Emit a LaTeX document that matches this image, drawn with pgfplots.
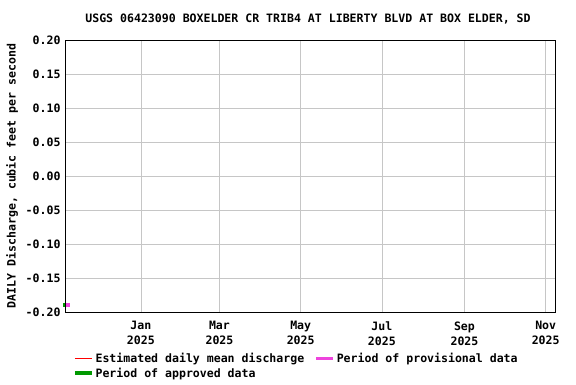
\documentclass[border=0pt]{standalone}
\usepackage{pgfplots}
\pgfplotsset{compat=1.18}
\usepackage{fontspec}
\setmainfont{DejaVu Sans Mono}
\definecolor{prov}{RGB}{238,68,221}
\definecolor{appr}{RGB}{0,153,0}
\begin{document}
\begin{tikzpicture}[x=1bp,y=1bp]
\path[use as bounding box] (0,0) rectangle (576,384);
\begin{axis}[
  at={(65bp,72bp)}, anchor=south west,
  scale only axis, width=490bp, height=272bp,
  xmin=-57, xmax=311, ymin=-0.2, ymax=0.2,
  xtick={0,59,120,181,243,304},
  xticklabels={{Jan\\2025},{Mar\\2025},{May\\2025},{Jul\\2025},{Sep\\2025},{Nov\\2025}},
  xticklabel style={align=center, font=\bfseries\fontsize{11.6}{15}\selectfont, yshift=-6bp},
  ytick={-0.2,-0.15,...,0.21},
  yticklabel style={font=\bfseries\fontsize{11.6}{12}\selectfont, xshift=-1bp},
  /pgf/number format/assume math mode=true,
  /pgf/number format/.cd, fixed, fixed zerofill, precision=2, /pgfplots/.cd,
  grid=major, major grid style={gray!45, line width=0.8pt},
  axis line style={line width=1pt},
  tick style={draw=none},
  axis on top,
  clip=false,
  ylabel={DAILY Discharge, cubic feet per second},
  ylabel style={font=\bfseries\fontsize{11.6}{12}\selectfont, at={(axis description cs:-0.108,0.5)}, anchor=center},
  legend columns=2,
  legend cell align=left,
  legend style={at={(axis description cs:0.012,-0.135)}, anchor=north west, draw=none, fill=none,
    font=\bfseries\fontsize{11.6}{12}\selectfont, row sep=0bp, inner xsep=2bp,
    /tikz/every even column/.append style={column sep=8bp}},
  legend image code/.code={\draw[#1] (0bp,0bp) -- (17bp,0bp);},
]
\addlegendimage{red, line width=0.8pt}
\addlegendentry{Estimated daily mean discharge}
\addlegendimage{prov, line width=3.5pt}
\addlegendentry{Period of provisional data}
\addlegendimage{appr, line width=3.5pt}
\addlegendentry{Period of approved data}
\addplot[appr, line width=4bp, forget plot] coordinates {(-58.5,-0.189) (-57,-0.189)};
\addplot[prov, line width=4bp, forget plot] coordinates {(-57,-0.189) (-53.3,-0.189)};
\end{axis}
\node[font=\bfseries\fontsize{11.6}{12}\selectfont] at (308,365) {USGS 06423090 BOXELDER CR TRIB4 AT LIBERTY BLVD AT BOX ELDER, SD};
\end{tikzpicture}
\end{document}
